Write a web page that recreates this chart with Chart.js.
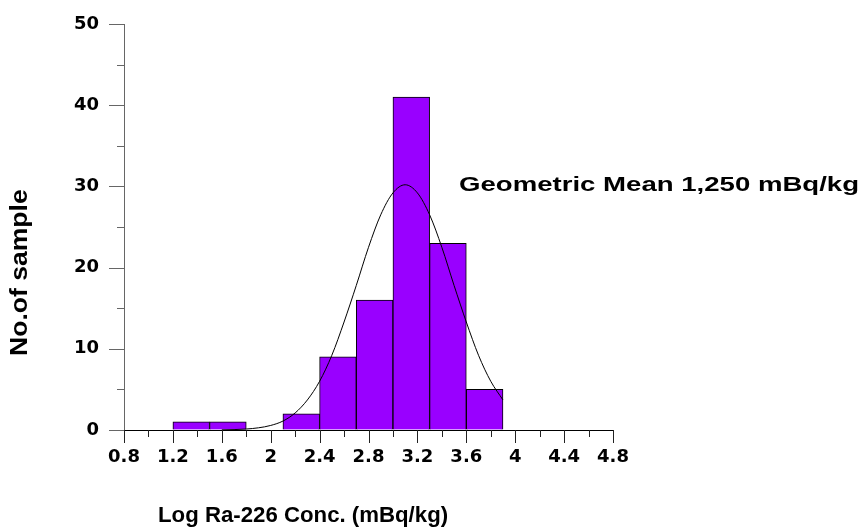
<!DOCTYPE html>
<html>
<head>
<meta charset="utf-8">
<script src="https://cdn.jsdelivr.net/npm/chart.js@4.4.0/dist/chart.umd.min.js"></script>
<style>
  html, body { margin: 0; padding: 0; background: #fff; }
  #wrap { position: relative; width: 865px; height: 530px; overflow: hidden; }
  #chart { position: absolute; left: 0; top: 0; }
  .label {
    position: absolute;
    font-family: "Liberation Sans", Arial, sans-serif;
    font-weight: bold;
    color: #000;
    white-space: nowrap;
    line-height: 1;
    transform-origin: 0 0;
  }
  #note { left: 459px; top: 174px; font-size: 20px; }
  #x-title { left: 158px; top: 504px; font-size: 22px; }
  #y-title { left: 7px; top: 356px; font-size: 24px; }
</style>
</head>
<body>
<div id="wrap">
  <canvas id="chart" width="865" height="530"></canvas>
  <div id="y-title" class="label">No.of sample</div>
  <div id="x-title" class="label">Log Ra-226 Conc. (mBq/kg)</div>
  <div id="note" class="label">Geometric Mean 1,250 mBq/kg</div>
</div>
<script>
// histogram bins (log concentration), width 0.3
const binStarts = [1.2, 1.5, 1.8, 2.1, 2.4, 2.7, 3.0, 3.3, 3.6];
const binWidth = 0.3;
const sampleCounts = [1, 1, 0, 2, 9, 16, 41, 23, 5];

// fitted curve
const curveX = [1.6, 1.7, 1.8, 1.9, 2.0, 2.1, 2.2, 2.3, 2.4, 2.5, 2.6, 2.7,
                2.8, 2.9, 3.0, 3.1, 3.2, 3.3, 3.4, 3.5, 3.6, 3.7, 3.8, 3.9];
const curveY = [0.02, 0.05, 0.12, 0.27, 0.56, 1.1, 2.1, 3.7, 6.0, 9.2, 13.3, 17.8,
                22.5, 26.5, 29.2, 30.2, 29.2, 26.5, 22.5, 17.8, 13.3, 9.2, 6.0, 3.7];

const xTickLabels = ['0.8', '1.2', '1.6', '2', '2.4', '2.8', '3.2', '3.6', '4', '4.4', '4.8'];
const yTickLabels = ['0', '10', '20', '30', '40', '50'];

const tickFont = { family: '"DejaVu Sans", sans-serif', weight: 'bold', size: 18 };

// long ticks at labelled values, short ones in between
const tickMarks = {
    id: 'tickMarks',
    afterDraw(chart) {
        const { ctx, chartArea: area, scales: { x, y } } = chart;
        ctx.save();
        ctx.lineWidth = 1;
        ctx.strokeStyle = '#222';
        x.ticks.forEach((t, i) => {
            const px = Math.round(x.getPixelForValue(t.value)) + 0.5;
            const len = i % 2 === 0 ? 13 : 7;
            ctx.beginPath();
            ctx.moveTo(px, area.bottom);
            ctx.lineTo(px, area.bottom + len);
            ctx.stroke();
        });
        ctx.strokeStyle = '#666';
        y.ticks.forEach(t => {
            const py = Math.round(y.getPixelForValue(t.value)) + 0.5;
            const len = t.value % 10 === 0 ? 15 : 7;
            ctx.beginPath();
            ctx.moveTo(area.left - len, py);
            ctx.lineTo(area.left, py);
            ctx.stroke();
        });
        ctx.restore();
    }
};

const ctx = document.getElementById('chart').getContext('2d');
new Chart(ctx, {
    type: 'bar',
    data: {
        datasets: [
            {
                type: 'line',
                data: curveX.map((v, i) => ({ x: v, y: curveY[i] })),
                borderColor: '#000',
                borderWidth: 1,
                pointRadius: 0,
                fill: false,
                cubicInterpolationMode: 'monotone',
                order: 0
            },
            {
                type: 'bar',
                data: binStarts.map((s, i) => ({ x: s + binWidth / 2, y: sampleCounts[i] })),
                backgroundColor: '#9900ff',
                borderColor: '#000',
                borderWidth: 1,
                barThickness: 'flex',
                barPercentage: 1,
                categoryPercentage: 1,
                order: 1
            }
        ]
    },
    options: {
        responsive: false,
        animation: false,
        layout: { padding: { top: 24, right: 252, left: 0, bottom: 0 } },
        plugins: { legend: { display: false }, tooltip: { enabled: false } },
        scales: {
            x: {
                type: 'linear',
                offset: false,
                min: 0.8,
                max: 4.8,
                afterFit: s => { s.height = 100; },
                afterBuildTicks: s => {
                    const majors = xTickLabels.map(Number);
                    const ticks = [];
                    majors.forEach((v, i) => {
                        ticks.push({ value: v });
                        if (i < majors.length - 1) ticks.push({ value: (v + majors[i + 1]) / 2 });
                    });
                    s.ticks = ticks;
                },
                ticks: {
                    autoSkip: false,
                    maxRotation: 0,
                    padding: 4,
                    color: '#000',
                    font: tickFont,
                    callback: (v, i) => (i % 2 === 0 ? xTickLabels[i / 2] : '')
                },
                grid: { display: true, drawOnChartArea: false, tickLength: 13, tickColor: 'rgba(0,0,0,0)', offset: false },
                border: { display: true, color: '#000', width: 1 }
            },
            y: {
                min: 0,
                max: 50,
                afterFit: s => { s.width = 124; },
                ticks: {
                    stepSize: 5,
                    autoSkip: false,
                    padding: 10,
                    color: '#000',
                    font: tickFont,
                    callback: v => (v % 10 === 0 ? yTickLabels[v / 10] : '')
                },
                grid: { display: true, drawOnChartArea: false, tickLength: 15, tickColor: 'rgba(0,0,0,0)' },
                border: { display: true, color: '#666', width: 1 }
            }
        }
    },
    plugins: [tickMarks]
});

// stretch the free text to the widths it has in the picture
function fitWidth(id, width, rotate) {
    const el = document.getElementById(id);
    const s = width / el.offsetWidth;
    el.style.transform = (rotate ? 'rotate(-90deg) ' : '') + 'scaleX(' + s.toFixed(3) + ')';
}
fitWidth('note', 400, false);
fitWidth('x-title', 290, false);
fitWidth('y-title', 167, true);
</script>
</body>
</html>
